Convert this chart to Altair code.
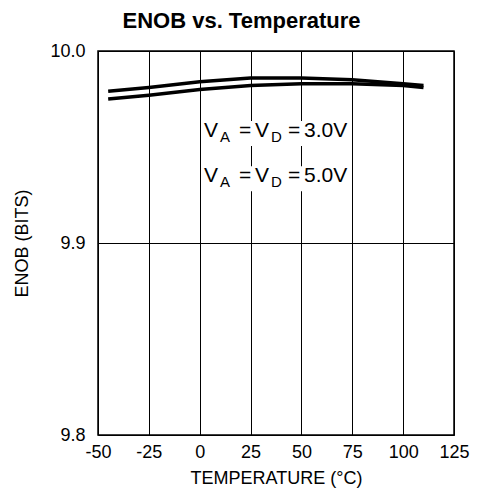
import altair as alt
import pandas as pd

temps = [-45, -25, 0, 25, 50, 75, 100, 110]
enob_3v = [9.979, 9.981, 9.984, 9.986, 9.986, 9.985, 9.983, 9.982]
enob_5v = [9.975, 9.977, 9.980, 9.982, 9.983, 9.983, 9.982, 9.981]
x_ticks = [-50, -25, 0, 25, 50, 75, 100, 125]
y_ticks = [9.8, 9.9, 10.0]

df = pd.DataFrame({
    "temp": temps * 2,
    "enob": enob_3v + enob_5v,
    "series": ["3.0V"] * len(temps) + ["5.0V"] * len(temps),
})

FONT = "Liberation Sans"

xs = alt.Scale(domain=[-50, 125], nice=False)
ys = alt.Scale(domain=[9.8, 10.0], nice=False)

axis_common = dict(grid=True, gridColor="black", gridOpacity=1, gridWidth=1,
                   domain=False, ticks=False, labelFlush=False,
                   labelFontSize=18, titleFontSize=18, titleFontWeight="normal",
                   labelColor="black", titleColor="black",
                   labelFont=FONT, titleFont=FONT)

lines = alt.Chart(df).mark_line(color="black", strokeWidth=3.5).encode(
    x=alt.X("temp:Q", scale=xs,
            axis=alt.Axis(values=x_ticks, title="TEMPERATURE (°C)", labelPadding=8,
                          labelExpr="datum.value + ''", titlePadding=8, **axis_common)),
    y=alt.Y("enob:Q", scale=ys,
            axis=alt.Axis(values=y_ticks, format=".1f", title="ENOB (BITS)",
                          labelPadding=13, titlePadding=18, **axis_common)),
    detail="series:N",
)

layers = [lines]

# white backgrounds behind annotations (interrupt grid lines)
ann_lines = [("3.0V", 9.9552, 9.9635, 9.9505), ("5.0V", 9.9318, 9.9400, 9.9270)]
for volt, yv, ytop, ybot in ann_lines:
    layers.append(
        alt.Chart().mark_rect(color="white").encode(
            x=alt.X(datum=1.2, scale=xs), x2=alt.datum(73.8),
            y=alt.Y(datum=ytop, scale=ys), y2=alt.datum(ybot))
    )

pieces = [("V", 0, 0, 21), ("A", 16, 5, 15), ("=", 35, 0, 21), ("V", 51, 0, 21),
          ("D", 67, 5, 15), ("=", 84, 0, 21)]
for volt, yv, ytop, ybot in ann_lines:
    for txt, dx, dy, size in pieces + [(volt, 100, 0, 21)]:
        layers.append(
            alt.Chart().mark_text(text=txt, align="left", baseline="alphabetic",
                                  dx=dx, dy=dy, fontSize=size, font=FONT, color="black")
            .encode(x=alt.X(datum=2.1, scale=xs), y=alt.Y(datum=yv, scale=ys))
        )

chart = alt.layer(*layers).properties(
    width=356, height=384,
    padding={"top": 2, "left": 5, "right": 5, "bottom": 5},
    title=alt.TitleParams("ENOB vs. Temperature", fontSize=22, fontWeight="bold",
                          font=FONT, color="black", offset=9, frame="bounds"),
).configure_view(stroke="black", strokeWidth=1.5)

chart.save("out.html", embed_options={"renderer": "svg", "actions": False})
